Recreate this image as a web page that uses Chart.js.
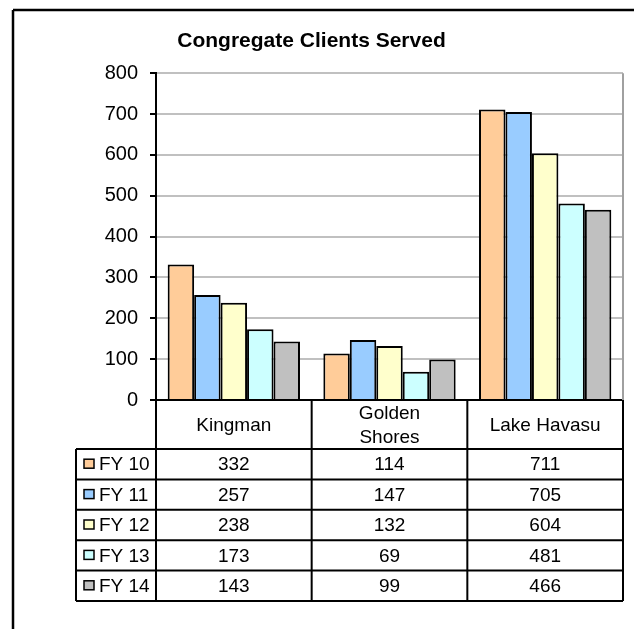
<!DOCTYPE html>
<html lang="en">
<head>
    <meta charset="UTF-8">
    <title>Congregate Clients Served</title>
    <script src="https://cdn.jsdelivr.net/npm/chart.js"></script>
    <style>
        body {
            margin: 0;
            background: #ffffff;
        }
        canvas {
            display: block;
        }
    </style>
</head>
<body>
    <canvas id="clientsChart" width="634" height="629"></canvas>

    <script>
        // chart data
        const categories = ['Kingman', ['Golden', 'Shores'], 'Lake Havasu'];
        const fyLabels = ['FY 10', 'FY 11', 'FY 12', 'FY 13', 'FY 14'];
        const fy10 = [332, 114, 711];
        const fy11 = [257, 147, 705];
        const fy12 = [238, 132, 604];
        const fy13 = [173, 69, 481];
        const fy14 = [143, 99, 466];
        const yTicks = [0, 100, 200, 300, 400, 500, 600, 700, 800];

        const seriesValues = [fy10, fy11, fy12, fy13, fy14];
        const barColors = ['#FFCC99', '#99CCFF', '#FFFFCC', '#CCFFFF', '#C0C0C0'];
        const FONT = "'Liberation Sans', Arial, sans-serif";

        // frame, plot border and the data table under the axis
        const tablePlugin = {
            id: 'dataTable',
            afterDraw(chart) {
                const ctx = chart.ctx;
                const area = chart.chartArea;
                const xScale = chart.scales.x;
                const colW = (area.right - area.left) / chart.data.labels.length;
                const headTop = area.bottom;
                const headBot = headTop + 49;
                const rowH = 30.4;
                const tableBot = headBot + rowH * fyLabels.length;
                const legendLeft = 76;

                ctx.save();

                // outer frame (top and left only)
                ctx.strokeStyle = '#000';
                ctx.lineWidth = 2.5;
                ctx.beginPath();
                ctx.moveTo(13, 10);
                ctx.lineTo(chart.width, 10);
                ctx.moveTo(13, 10);
                ctx.lineTo(13, chart.height);
                ctx.stroke();

                // right border of plot area
                ctx.strokeStyle = '#a0a0a0';
                ctx.lineWidth = 2;
                ctx.beginPath();
                ctx.moveTo(area.right, area.top);
                ctx.lineTo(area.right, area.bottom);
                ctx.stroke();

                // table grid
                ctx.strokeStyle = '#000';
                ctx.lineWidth = 2;
                ctx.beginPath();
                for (let i = 0; i <= chart.data.labels.length; i++) {
                    const x = area.left + colW * i;
                    ctx.moveTo(x, headTop);
                    ctx.lineTo(x, tableBot);
                }
                ctx.moveTo(legendLeft, headBot);
                ctx.lineTo(legendLeft, tableBot);
                for (let r = 0; r <= fyLabels.length; r++) {
                    const y = headBot + rowH * r;
                    ctx.moveTo(legendLeft, y);
                    ctx.lineTo(area.right, y);
                }
                ctx.stroke();

                ctx.fillStyle = '#000';
                ctx.font = '19px ' + FONT;
                ctx.textBaseline = 'middle';
                ctx.textAlign = 'center';

                // category header
                chart.data.labels.forEach((label, i) => {
                    const cx = xScale.getPixelForValue(i);
                    const lines = Array.isArray(label) ? label : [label];
                    const mid = (headTop + headBot) / 2 + 1;
                    lines.forEach((line, j) => {
                        const y = mid + (j - (lines.length - 1) / 2) * 24;
                        ctx.fillText(line, cx, y);
                    });
                });

                // rows
                chart.data.datasets.forEach((ds, r) => {
                    const cy = headBot + rowH * r + rowH / 2;
                    ctx.fillStyle = ds.backgroundColor;
                    ctx.fillRect(84, cy - 5, 10, 9);
                    ctx.lineWidth = 1.5;
                    ctx.strokeRect(84, cy - 5, 10, 9);

                    ctx.fillStyle = '#000';
                    ctx.textAlign = 'left';
                    ctx.fillText(ds.label, 99, cy + 1);

                    ctx.textAlign = 'center';
                    ds.data.forEach((v, i) => {
                        ctx.fillText(String(v), xScale.getPixelForValue(i), cy + 1);
                    });
                });

                ctx.restore();
            }
        };

        const ctx = document.getElementById('clientsChart').getContext('2d');

        new Chart(ctx, {
            type: 'bar',
            data: {
                labels: categories,
                datasets: fyLabels.map((label, i) => ({
                    label: label,
                    data: seriesValues[i],
                    backgroundColor: barColors[i],
                    borderColor: '#000',
                    borderWidth: 2,
                    categoryPercentage: 0.85,
                    barPercentage: 1.0
                }))
            },
            options: {
                responsive: false,
                animation: false,
                layout: {
                    padding: { left: 0, right: 11, top: 0, bottom: 229 }
                },
                plugins: {
                    legend: { display: false },
                    tooltip: { enabled: false },
                    title: {
                        display: true,
                        text: 'Congregate Clients Served',
                        color: '#000',
                        font: { family: FONT, size: 21, weight: 'bold' },
                        padding: { top: 29, bottom: 19 }
                    }
                },
                scales: {
                    x: {
                        afterFit(scale) { scale.height = 0; },
                        ticks: { display: false },
                        grid: { display: false },
                        border: { color: '#000', width: 2 }
                    },
                    y: {
                        min: 0,
                        max: 800,
                        afterFit(scale) { scale.width = 156; },
                        afterBuildTicks(scale) {
                            scale.ticks = yTicks.map(v => ({ value: v }));
                        },
                        ticks: {
                            color: '#000',
                            font: { family: FONT, size: 20 },
                            padding: 12
                        },
                        grid: {
                            color: '#c0c0c0',
                            lineWidth: 2,
                            tickColor: '#000',
                            tickLength: 6
                        },
                        border: { color: '#000', width: 2 }
                    }
                }
            },
            plugins: [tablePlugin]
        });
    </script>
</body>
</html>
